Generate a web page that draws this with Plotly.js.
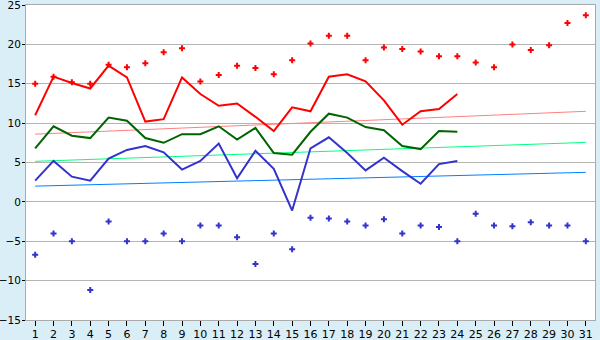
<!DOCTYPE html>
<html>
<head>
<meta charset="utf-8">
<script src="https://cdn.plot.ly/plotly-3.0.1.min.js"></script>
<style>html,body{margin:0;padding:0;background:#d9eef6;}#chart{width:600px;height:340px;}</style>
</head>
<body>
<div id="chart"></div>
<script>
// Days of the month
const days = Array.from({length: 31}, (_, i) => i + 1);
const daysLine = days.slice(0, 24);

// Record/extreme highs (red markers)
const maxRecord = [15.0, 15.9, 15.2, 15.0, 17.4, 17.1, 17.6, 19.0, 19.5, 15.3,
  16.1, 17.3, 17.0, 16.2, 18.0, 20.1, 21.1, 21.1, 18.0, 19.6,
  19.4, 19.1, 18.5, 18.5, 17.7, 17.1, 20.0, 19.3, 19.9, 22.7, 23.7];

// Record/extreme lows (blue markers)
const minRecord = [-6.7, -4.0, -5.0, -11.2, -2.5, -5.0, -5.0, -4.0, -5.0, -3.0,
  -3.0, -4.5, -7.9, -4.0, -6.0, -2.0, -2.1, -2.5, -3.0, -2.2,
  -4.0, -3.0, -3.2, -5.0, -1.5, -3.0, -3.1, -2.6, -3.0, -3.0, -5.0];

// Daily max (red line)
const maxTemp = [11.0, 15.9, 15.1, 14.4, 17.3, 15.8, 10.2, 10.5, 15.8, 13.7,
  12.2, 12.5, 10.8, 9.0, 12.0, 11.5, 15.9, 16.2, 15.3, 12.9,
  9.8, 11.5, 11.8, 13.7];

// Daily mean (green line)
const meanTemp = [6.8, 9.6, 8.4, 8.1, 10.7, 10.3, 8.1, 7.5, 8.6, 8.6,
  9.6, 7.9, 9.4, 6.2, 6.0, 8.9, 11.2, 10.7, 9.5, 9.1,
  7.1, 6.7, 9.0, 8.9];

// Daily min (blue line)
const minTemp = [2.7, 5.2, 3.2, 2.7, 5.5, 6.6, 7.1, 6.3, 4.1, 5.2,
  7.4, 3.0, 6.5, 4.2, -1.1, 6.8, 8.2, 6.2, 4.0, 5.6,
  3.9, 2.3, 4.8, 5.2];

// Normal (trend) lines: start and end values over the month
const trendDays = [1, 31];
const normalMax = [8.6, 11.5];
const normalMean = [5.15, 7.55];
const normalMin = [2.0, 3.75];

const yTicks = [-15, -10, -5, 0, 5, 10, 15, 20, 25];
const yTickText = ['\u221215', '\u221210', '\u22125', '0', '5', '10', '15', '20', '25'];

const traces = [
  {x: trendDays, y: normalMax, mode: 'lines', line: {color: '#ff8080', width: 1}},
  {x: trendDays, y: normalMean, mode: 'lines', line: {color: '#00ff80', width: 1}},
  {x: trendDays, y: normalMin, mode: 'lines', line: {color: '#0080ff', width: 1}},
  {x: daysLine, y: maxTemp, mode: 'lines', line: {color: '#ff0000', width: 2}},
  {x: daysLine, y: meanTemp, mode: 'lines', line: {color: '#006400', width: 2}},
  {x: daysLine, y: minTemp, mode: 'lines', line: {color: '#3333cc', width: 2}},
  {x: days, y: maxRecord, mode: 'markers', marker: {symbol: 'cross', size: 5, color: '#ff0000'}},
  {x: days, y: minRecord, mode: 'markers', marker: {symbol: 'cross', size: 5, color: '#3333cc'}}
];

const layout = {
  width: 600, height: 340,
  margin: {l: 26, r: 5, t: 5, b: 20},
  paper_bgcolor: '#d9eef6',
  plot_bgcolor: '#ffffff',
  showlegend: false,
  font: {family: 'DejaVu Sans, sans-serif', size: 10, color: '#000000'},
  xaxis: {
    range: [0.5, 31.5],
    tickvals: days, ticktext: days.map(String),
    ticks: 'outside', ticklen: 5, tickcolor: '#000000',
    ticklabelstandoff: -1, ticklabeloverflow: 'allow',
    tickfont: {size: 11},
    showgrid: false, zeroline: false,
    showline: true, linecolor: '#aaaaaa', linewidth: 1, mirror: true,
    fixedrange: true
  },
  yaxis: {
    range: [-15, 25],
    tickvals: yTicks, ticktext: yTickText,
    ticks: 'outside', ticklen: 3, tickcolor: '#000000',
    ticklabelstandoff: -1, ticklabeloverflow: 'allow',
    tickfont: {size: 10.5},
    showgrid: true, gridcolor: '#b4b4b4', gridwidth: 1,
    zeroline: false,
    showline: true, linecolor: '#aaaaaa', linewidth: 1, mirror: true,
    fixedrange: true
  }
};

Plotly.newPlot('chart', traces, layout, {displayModeBar: false, staticPlot: true});
</script>
</body>
</html>
